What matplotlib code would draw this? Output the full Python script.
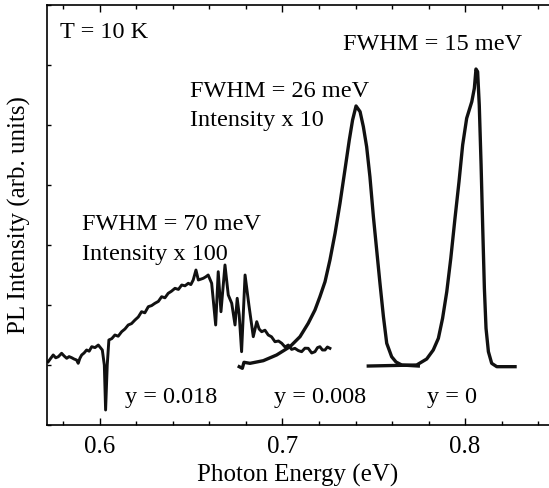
import numpy as np
import matplotlib
matplotlib.use("Agg")
import matplotlib.pyplot as plt
from matplotlib.ticker import MultipleLocator, NullFormatter

plt.rcParams['font.family'] = ['Liberation Serif', 'DejaVu Serif']

# y = 0.018 sample, intensity x 100 (noisy)
e_018 = [0.5717, 0.5730, 0.5744, 0.5758, 0.5772, 0.5790, 0.5804, 0.5818, 0.5831,
         0.5845, 0.5858, 0.5872, 0.5881, 0.5890, 0.5900, 0.5913,
         0.5927, 0.5941, 0.5955, 0.5973, 0.5991, 0.6013, 0.6024, 0.6031, 0.6040,
         0.6049, 0.6065, 0.6082, 0.6100,
         0.6119, 0.6137, 0.6155, 0.6173, 0.6192, 0.6210, 0.6228, 0.6246, 0.6265,
         0.6283, 0.6301, 0.6320, 0.6338, 0.6356, 0.6374, 0.6392, 0.6411,
         0.6430, 0.6448, 0.6466, 0.6484, 0.6498, 0.6511, 0.6526, 0.6539, 0.6552,
         0.6566, 0.6580, 0.6593, 0.6612, 0.6634,
         0.6648, 0.6663, 0.6685, 0.6703, 0.6722, 0.6740, 0.6752, 0.6763, 0.6776,
         0.6795, 0.6816, 0.6840, 0.6859, 0.6872, 0.6886, 0.6904, 0.6922, 0.6940,
         0.6959, 0.6978, 0.6996, 0.7014, 0.7032, 0.7050,
         0.7068, 0.7087, 0.7105, 0.7123, 0.7141, 0.7160, 0.7178, 0.7192, 0.7205,
         0.7219, 0.7233, 0.7246, 0.7260]
i_018 = [1.055, 1.110, 1.167, 1.120, 1.138, 1.195, 1.150, 1.112, 1.140,
         1.122, 1.100, 1.083, 1.028, 1.110, 1.167, 1.200,
         1.250, 1.230, 1.305, 1.290, 1.333, 1.250, 1.000, 0.250, 1.000,
         1.417, 1.440, 1.500, 1.480,
         1.555, 1.600, 1.667, 1.690, 1.750, 1.800, 1.888, 1.870, 1.972,
         1.990, 2.028, 2.060, 2.138, 2.120, 2.195, 2.230, 2.278,
         2.260, 2.333, 2.320, 2.362, 2.340, 2.417, 2.583, 2.417, 2.430,
         2.445, 2.470, 2.500, 2.362, 1.667,
         2.555, 1.888, 2.667, 2.167, 2.028, 1.667, 2.112, 1.833, 1.222,
         2.500, 2.000, 1.472, 1.722, 1.600, 1.555, 1.580, 1.500, 1.470,
         1.388, 1.400, 1.362, 1.300, 1.333, 1.260,
         1.278, 1.240, 1.222, 1.280, 1.278, 1.200, 1.222, 1.290, 1.305,
         1.250, 1.250, 1.300, 1.278]

# y = 0.008 sample, intensity x 10
e_008 = [0.6763, 0.6780, 0.6789, 0.6822, 0.6895, 0.6968, 0.7041, 0.7096, 0.7141,
         0.7178, 0.7205, 0.7233, 0.7260, 0.7288, 0.7315, 0.7342, 0.7366, 0.7384,
         0.7403, 0.7425, 0.7443, 0.7461, 0.7479, 0.7498, 0.7516, 0.7534, 0.7553,
         0.7571, 0.7598, 0.7622, 0.7653, 0.7744]
i_008 = [0.972, 0.945, 1.045, 1.028, 1.072, 1.167, 1.305, 1.472, 1.695,
         1.917, 2.138, 2.388, 2.750, 3.195, 3.695, 4.250, 4.750, 5.083,
         5.317, 5.222, 4.972, 4.638, 4.138, 3.472, 2.917, 2.362, 1.805,
         1.362, 1.138, 1.050, 1.000, 0.983]

# y = 0 sample
e_0 = [0.7470, 0.7735, 0.7790, 0.7826, 0.7854, 0.7877, 0.7900, 0.7922, 0.7945,
       0.7967, 0.7987, 0.8009, 0.8037, 0.8051, 0.8060, 0.8069, 0.8078, 0.8088,
       0.8097, 0.8106, 0.8115, 0.8128, 0.8146, 0.8174, 0.8274]
i_0 = [0.983, 1.000, 1.100, 1.250, 1.445, 1.778, 2.222, 2.778, 3.445,
       4.055, 4.667, 5.112, 5.388, 5.612, 5.933, 5.888, 5.333, 4.333,
       3.278, 2.278, 1.612, 1.222, 1.028, 0.972, 0.972]

fig = plt.figure(figsize=(5.49, 4.88), dpi=100)
ax = fig.add_axes([47/549, 63/488, 502/549, 420/488])

ax.plot(e_018, i_018, color='#111111', lw=2.1, solid_joinstyle='round')
ax.plot(e_008, i_008, color='#111111', lw=2.4, solid_joinstyle='round')
ax.plot(e_0, i_0, color='#111111', lw=2.4, solid_joinstyle='round')

ax.set_xlim(0.571, 0.846)
ax.set_ylim(0, 7)
ax.spines['right'].set_visible(False)
for s in ['left', 'bottom', 'top']:
    ax.spines[s].set_linewidth(1.2)

ax.xaxis.set_major_locator(MultipleLocator(0.1))
ax.xaxis.set_minor_locator(MultipleLocator(0.02))
ax.yaxis.set_major_locator(MultipleLocator(1))
ax.yaxis.set_major_formatter(NullFormatter())
ax.tick_params(which='both', direction='in', top=True, right=False, width=1.0)
ax.tick_params(which='major', axis='x', length=5, labelsize=18, pad=8)
ax.tick_params(which='minor', axis='x', length=3)
ax.tick_params(axis='y', length=3)

ax.set_xlabel("Photon Energy (eV)", fontsize=18, labelpad=4)
ax.set_ylabel("PL Intensity (arb. units)", fontsize=18, labelpad=8)

def label(x, y, s):
    fig.text(x/549, 1 - y/488, s, fontsize=17.5, va='baseline', ha='left')

label(60, 38, "T = 10 K")
label(343, 50, "FWHM = 15 meV")
label(190, 97, "FWHM = 26 meV")
label(190, 126, "Intensity x 10")
label(82, 230, "FWHM = 70 meV")
label(82, 260, "Intensity x 100")
label(125, 403, "y = 0.018")
label(274, 403, "y = 0.008")
label(427, 403, "y = 0")

fig.savefig("out.png", dpi=100)
